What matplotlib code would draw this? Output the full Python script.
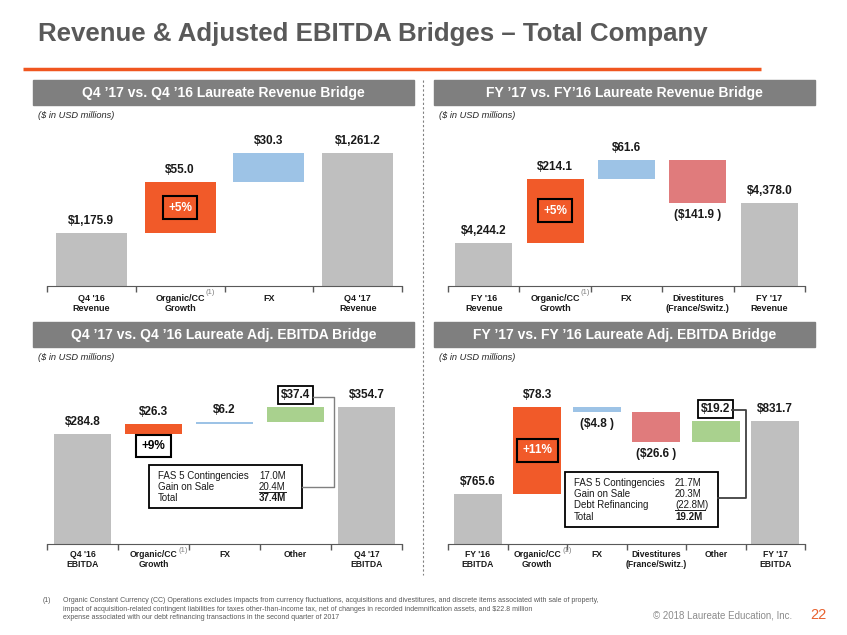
import matplotlib.pyplot as plt
import numpy as np
from matplotlib.patches import Rectangle

plt.rcParams['font.family'] = ['Liberation Sans', 'DejaVu Sans']

# ---- data ----
q4_rev_cats = ["Q4 '16\nRevenue", "Organic/CC\nGrowth", "FX", "Q4 '17\nRevenue"]
q4_rev_vals = [1175.9, 55.0, 30.3, 1261.2]
q4_rev_kind = ["total", "organic", "fx", "total"]

fy_rev_cats = ["FY '16\nRevenue", "Organic/CC\nGrowth", "FX", "Divestitures\n(France/Switz.)", "FY '17\nRevenue"]
fy_rev_vals = [4244.2, 214.1, 61.6, -141.9, 4378.0]
fy_rev_kind = ["total", "organic", "fx", "divest", "total"]

q4_ebitda_cats = ["Q4 '16\nEBITDA", "Organic/CC\nGrowth", "FX", "Other", "Q4 '17\nEBITDA"]
q4_ebitda_vals = [284.8, 26.3, 6.2, 37.4, 354.7]
q4_ebitda_kind = ["total", "organic", "fx", "other", "total"]

fy_ebitda_cats = ["FY '16\nEBITDA", "Organic/CC\nGrowth", "FX", "Divestitures\n(France/Switz.)", "Other", "FY '17\nEBITDA"]
fy_ebitda_vals = [765.6, 78.3, -4.8, -26.6, 19.2, 831.7]
fy_ebitda_kind = ["total", "organic", "fx", "divest", "other", "total"]

pct_growth = ["+5%", "+5%", "+9%", "+11%"]

q4_other_items = ["FAS 5 Contingencies", "Gain on Sale", "Total"]
q4_other_amts = ["17.0M", "20.4M", "37.4M"]
fy_other_items = ["FAS 5 Contingencies", "Gain on Sale", "Debt Refinancing", "Total"]
fy_other_amts = ["21.7M", "20.3M", "(22.8M)", "19.2M"]

footnote = ["Organic Constant Currency (CC) Operations excludes impacts from currency fluctuations, acquisitions and divestitures, and discrete items associated with sale of property,",
            "impact of acquisition-related contingent liabilities for taxes other-than-income tax, net of changes in recorded indemnification assets, and $22.8 million",
            "expense associated with our debt refinancing transactions in the second quarter of 2017"]

colors = {"total": "#BFBFBF", "organic": "#F15A29", "fx": "#9DC3E6",
          "divest": "#E07B7C", "other": "#A9D18E"}

W, H = 847, 635
fig = plt.figure(figsize=(W / 100, H / 100), dpi=100)


def px_axes(l, t, r, b):
    return fig.add_axes([l / W, 1 - b / H, (r - l) / W, (b - t) / H])


def bridge(ax, cats, vals, kinds, ylim, pct, pct_inside, tsize, tpad):
    n = len(vals)
    running = 0
    for i, (v, k) in enumerate(zip(vals, kinds)):
        if k == "total":
            bottom = 0
            running = v
        else:
            bottom = running
            running += v
        ax.bar(i, v, bottom=bottom, width=0.8, color=colors[k], zorder=2)
        if v >= 0:
            txt, y, off, va = f"${v:,.1f}", bottom + v, 6, "bottom"
        else:
            txt, y, off, va = f"(${-v:,.1f} )", bottom + v, -6, "top"
        box = None
        if k == "other":
            box = dict(boxstyle="square,pad=0.25", fc="white", ec="black", lw=1.3)
        ax.annotate(txt, xy=(i, y), xytext=(0, off), textcoords="offset pixels",
                    ha="center", va=va, fontsize=8.5, fontweight="bold",
                    color="#1a1a1a", bbox=box, annotation_clip=False)
        if k == "organic":
            if pct_inside:
                ax.annotate(pct, xy=(i, bottom + v / 2), ha="center", va="center",
                            fontsize=8.5, fontweight="bold", color="white",
                            bbox=dict(boxstyle="square,pad=0.45", fc="none", ec="black", lw=1.5))
            else:
                ax.annotate(pct, xy=(i, bottom), xytext=(0, -12), textcoords="offset pixels",
                            ha="center", va="center", fontsize=8.5, fontweight="bold",
                            color="black", annotation_clip=False,
                            bbox=dict(boxstyle="square,pad=0.45", fc="white", ec="black", lw=1.5))
            ax.annotate("(1)", xy=(i, 0), xycoords=("data", "axes fraction"),
                        xytext=(30, -6), textcoords="offset pixels", ha="center",
                        va="center", fontsize=5.5, color="#808080", annotation_clip=False)
    ax.set_xlim(-0.5, n - 0.5)
    ax.set_ylim(*ylim)
    ax.set_xticks(np.arange(n))
    ax.set_xticklabels(cats, fontsize=tsize, fontweight="bold", linespacing=1.15, color="#1a1a1a")
    ax.set_xticks(np.arange(n + 1) - 0.5, minor=True)
    ax.tick_params(axis="x", which="major", length=0, pad=tpad)
    ax.tick_params(axis="x", which="minor", length=4, color="#595959", width=1)
    ax.set_yticks([])
    for s in ["left", "top", "right"]:
        ax.spines[s].set_visible(False)
    ax.spines["bottom"].set_color("#595959")
    ax.patch.set_alpha(0)


ax1 = px_axes(47, 130, 402, 286)
bridge(ax1, q4_rev_cats, q4_rev_vals, q4_rev_kind, (1120, 1286), pct_growth[0], True, 6.5, 6)
ax2 = px_axes(448, 130, 805, 286)
bridge(ax2, fy_rev_cats, fy_rev_vals, fy_rev_kind, (4101, 4620), pct_growth[1], True, 6.5, 6)
ax3 = px_axes(47, 380, 402, 544)
bridge(ax3, q4_ebitda_cats, q4_ebitda_vals, q4_ebitda_kind, (0, 425), pct_growth[2], False, 6.2, 4)
ax4 = px_axes(448, 380, 805, 544)
bridge(ax4, fy_ebitda_cats, fy_ebitda_vals, fy_ebitda_kind, (720.3, 868.4), pct_growth[3], True, 6.2, 4)

# ---- page decorations (pixel coordinates) ----
page = fig.add_axes([0, 0, 1, 1], zorder=3)
page.set_xlim(0, W)
page.set_ylim(H, 0)
page.axis("off")
page.patch.set_alpha(0)

page.text(38, 34, "Revenue & Adjusted EBITDA Bridges \u2013 Total Company", fontsize=18.6,
          fontweight="bold", color="#595959", va="center")
page.plot([23, 761], [68.5, 68.5], color="#F0561F", lw=2.5, solid_capstyle="butt")

headers = ["Q4 \u201917 vs. Q4 \u201916 Laureate Revenue Bridge",
           "FY \u201917 vs. FY\u201916 Laureate Revenue Bridge",
           "Q4 \u201917 vs. Q4 \u201916 Laureate Adj. EBITDA Bridge",
           "FY \u201917 vs. FY \u201916 Laureate Adj. EBITDA Bridge"]
for (hx, hy), htxt in zip([(33, 80), (434, 80), (33, 322), (434, 322)], headers):
    page.add_patch(Rectangle((hx, hy), 381, 25, color="#7F7F7F"))
    page.text(hx + 190.5, hy + 12.5, htxt, color="white", fontsize=10,
              fontweight="bold", ha="center", va="center")
    page.text(hx + 5, hy + 36, "($ in USD millions)", fontsize=6.7, style="italic",
              color="#262626", va="center")

page.plot([423, 423], [80, 575], color="#808080", lw=0.8, ls=(0, (2, 2)))

# Q4 "Other" breakdown box
page.add_patch(Rectangle((149, 465), 153, 43, fc="white", ec="black", lw=1.3))
for j, (it, am) in enumerate(zip(q4_other_items, q4_other_amts)):
    yy = 475.7 + 11 * j
    bold = "bold" if it == "Total" else "normal"
    page.text(158, yy, it, fontsize=7, va="center", color="#1a1a1a")
    page.text(259, yy, am, fontsize=7, va="center", fontweight=bold, color="#1a1a1a")
page.plot([259, 286], [491.5, 491.5], color="#1a1a1a", lw=0.7)
page.plot([302, 334, 334, 313], [486.7, 486.7, 396.7, 396.7], color="#808080", lw=1)

# FY "Other" breakdown box
page.add_patch(Rectangle((565, 472.3), 153, 54.4, fc="white", ec="black", lw=1.3))
for j, (it, am) in enumerate(zip(fy_other_items, fy_other_amts)):
    yy = 483.3 + 11.1 * j
    bold = "bold" if it == "Total" else "normal"
    page.text(574, yy, it, fontsize=7, va="center", color="#1a1a1a")
    page.text(675, yy, am, fontsize=7, va="center", fontweight=bold, color="#1a1a1a")
page.plot([675, 705], [510.3, 510.3], color="#1a1a1a", lw=0.7)
page.plot([718, 745.7, 745.7, 732], [498.3, 498.3, 410, 410], color="#404040", lw=1.3)

# footer
page.text(43, 601, "(1)", fontsize=5, color="#595959", va="center")
for j, line in enumerate(footnote):
    page.text(63, 601 + 8.2 * j, line, fontsize=5, color="#595959", va="center")
page.text(653, 615.5, "\u00a9 2018 Laureate Education, Inc.", fontsize=7, color="#8C8C8C", va="center")
page.text(818, 615, "22", fontsize=10.5, color="#E8622F", va="center", ha="center")

fig.savefig("out.png", dpi=100)
